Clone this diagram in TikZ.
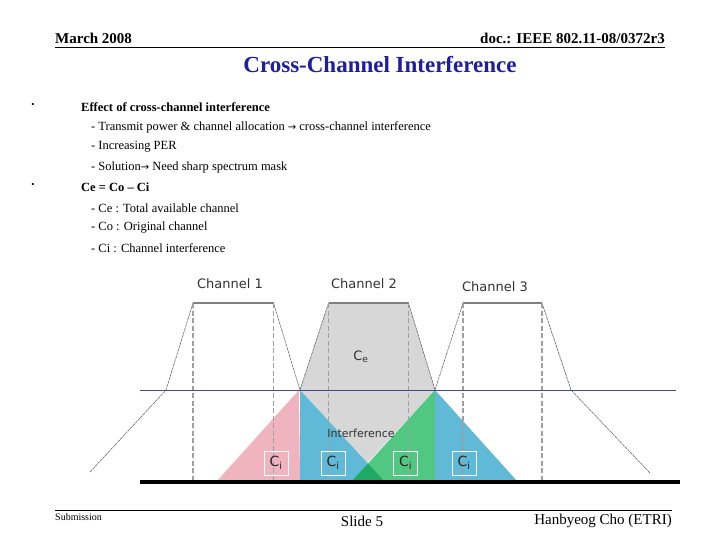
\documentclass[tikz,border=0pt]{standalone}
\usepackage{fontspec}
\setmainfont{Liberation Serif}
\newfontfamily\dv{DejaVu Sans}
\definecolor{titleblue}{RGB}{30,30,160}
\definecolor{hline}{RGB}{70,70,150}
\definecolor{pinkf}{RGB}{240,180,190}
\definecolor{bluef}{RGB}{95,185,215}
\definecolor{greenf}{RGB}{80,200,130}
\definecolor{dgreenf}{RGB}{30,170,100}
\definecolor{greyf}{RGB}{215,215,215}
\begin{document}
\begin{tikzpicture}[x=1pt,y=-1pt,
  hdr/.style={font=\bfseries\fontsize{15}{17}\selectfont,inner sep=0},
  body/.style={font=\fontsize{12.5}{15}\selectfont,anchor=west,inner sep=0},
  lab/.style={font=\dv\fontsize{13}{15}\selectfont,inner sep=0,text=black!80},
  dsh/.style={gray!75,line width=1.8pt,dash pattern=on 5pt off 2.5pt},
  slope/.style={black!65,line width=0.5pt,dash pattern=on 3pt off 0.7pt},
  cibox/.style={draw=white,line width=0.8pt,minimum size=24pt,inner sep=0,text=black!85,font=\dv\fontsize{14}{15}\selectfont}]
\useasboundingbox (0,0) rectangle (720,540);
\fill[white] (0,0) rectangle (720,540);
% header
\node[hdr,anchor=west] (date) at (55,38) {March 2008};
\node[hdr,anchor=east] (doc) at (665,38) {doc.: IEEE 802.11-08/0372r3};
\draw[line width=0.8pt] (55,47.5) -- (665,47.5);
\node[font=\bfseries\fontsize{23}{25}\selectfont,text=titleblue,inner sep=0] (title) at (380,65) {Cross-Channel Interference};
% bullets
\node[font=\fontsize{9}{12}\selectfont,inner sep=0] (b1) at (33,105) {\textbullet};
\node[font=\fontsize{9}{12}\selectfont,inner sep=0] (b2) at (33,185) {\textbullet};
\node[body,font=\bfseries\fontsize{12.5}{15}\selectfont] (t1) at (81,107) {Effect of cross-channel interference};
\node[body] (t2) at (91,127) {- Transmit power \& channel allocation {\dv\fontsize{10}{12}\selectfont→} cross-channel interference};
\node[body] (t3) at (91,147) {- Increasing PER};
\node[body] (t4) at (91,167) {- Solution{\dv\fontsize{10}{12}\selectfont→} Need sharp spectrum mask};
\node[body,font=\bfseries\fontsize{12.5}{15}\selectfont] (t5) at (81,187) {Ce = Co – Ci};
\node[body] (t6) at (91,208) {- Ce : Total available channel};
\node[body] (t7) at (91,228) {- Co : Original channel};
\node[body] (t8) at (91,248) {- Ci : Channel interference};
% diagram fills
\fill[greyf] (300,390) -- (328.5,303) -- (408.5,303) -- (435,390) -- (367,463) -- cycle;
\fill[pinkf] (299,390) -- (217,481) -- (300,481) -- cycle;
\fill[bluef] (300,390) -- (300,481) -- (384,481) -- cycle;
\fill[greenf] (435,390) -- (352,481) -- (435,481) -- cycle;
\fill[dgreenf] (352,481) -- (368,463.5) -- (384,481) -- cycle;
\fill[bluef] (435,390) -- (435,481) -- (517,481) -- cycle;
% spectrum outlines
\draw[slope] (90,472) -- (166,390) -- (193,303) -- (273.5,303) -- (300,390);
\draw[slope] (300,390) -- (328.5,303) -- (408.5,303) -- (435,390);
\draw[slope] (435,390) -- (463,303) -- (542,303) -- (571,390) -- (650,473);
\draw[gray,line width=1.5pt] (193,303) -- (273.5,303) (328.5,303) -- (408.5,303) (463,303) -- (542,303);
\foreach \x in {193,273.5,328.5,408.5,463,542} \draw[dsh] (\x,303) -- (\x,481);
\draw[hline,line width=0.6pt] (140,390) -- (676,390);
\draw[line width=4pt] (140,482) -- (680,482);
% labels
\node[lab] (c1) at (230,284) {Channel 1};
\node[lab] (c2) at (364,284) {Channel 2};
\node[lab] (c3) at (495,287) {Channel 3};
\node[lab] (ce) at (361,357) {C\textsubscript{e}};
\node[lab,font=\dv\fontsize{11}{13}\selectfont] (int) at (361,433) {Interference};
\node[cibox] (ci1) at (276,463) {C\textsubscript{i}};
\node[cibox] (ci2) at (333,463) {C\textsubscript{i}};
\node[cibox] (ci3) at (405.5,463) {C\textsubscript{i}};
\node[cibox] (ci4) at (464,463) {C\textsubscript{i}};
% footer
\draw[line width=0.8pt] (55,510) -- (672,510);
\node[font=\fontsize{10}{12}\selectfont,anchor=west,inner sep=0] (sub) at (55,517) {Submission};
\node[font=\fontsize{15}{17}\selectfont,inner sep=0] (slide) at (362,521) {Slide 5};
\node[font=\fontsize{15}{17}\selectfont,anchor=east,inner sep=0] (auth) at (672,521) {Hanbyeog Cho (ETRI)};
\end{tikzpicture}
\end{document}
